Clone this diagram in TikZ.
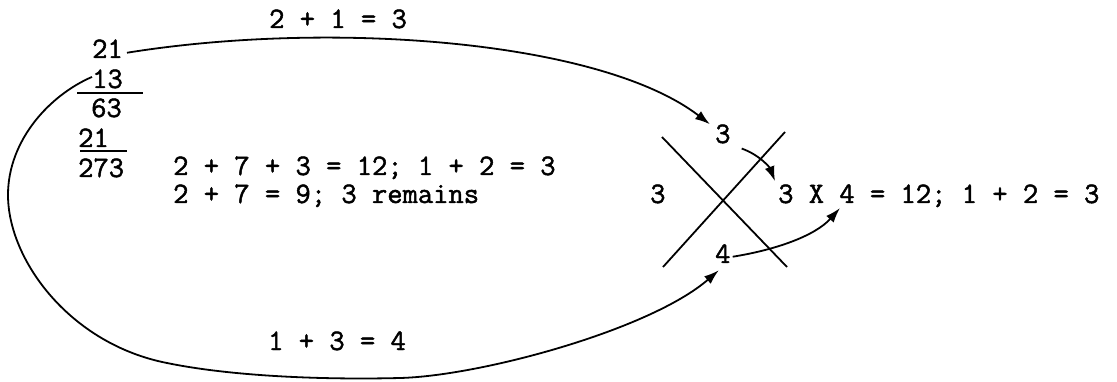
\documentclass[tikz,border=0pt]{standalone}
\usepackage{fontspec}
\newfontfamily\typew[FakeBold=1.6]{Latin Modern Mono}
\usetikzlibrary{arrows.meta,calc}
\begin{document}
\begin{tikzpicture}[x=1pt,y=-1pt,
  txt/.style={font=\typew\fontsize{29.7}{30}\selectfont, inner sep=0pt, anchor=base west},
  conn/.style={line width=1.8pt, -{Latex[length=15pt,width=10pt]}},
  plain/.style={line width=1.8pt}]
\useasboundingbox (0,0) rectangle (1117,382);
% texts
\node[txt] (top) at (269,28) {2 + 1 = 3};
\node[txt] (a21) at (92,58) {21};
\node[txt] (a13) at (92,88) {13};
\node[txt] (a63) at (91,117) {63};
\node[txt] (b21) at (78,147) {21};
\node[txt] (a273) at (78,177) {273};
\node[txt] (l1) at (173,175) {2 + 7 + 3 = 12; 1 + 2 = 3};
\node[txt] (l2) at (173,203) {2 + 7 = 9; 3 remains};
\node[txt] (left3) at (650,203) {3};
\node[txt] (prod) at (778,203) {3 X 4 = 12; 1 + 2 = 3};
\node[txt] (t3) at (715,143) {3};
\node[txt] (b4) at (715,263) {4};
\node[txt] (bot) at (268,350) {1 + 3 = 4};
% sum lines
\coordinate (u1a) at (77,93); \coordinate (u1b) at (143,93);
\coordinate (u2a) at (80,151); \coordinate (u2b) at (127,151);
\draw[plain] (u1a) -- (u1b);
\draw[plain] (u2a) -- (u2b);
% cross
\coordinate (c1a) at (662,137); \coordinate (c1b) at (787,267);
\coordinate (c2a) at (785,132); \coordinate (c2b) at (663,267);
\draw[plain] (c1a) -- (c1b);
\draw[plain] (c2a) -- (c2b);
% top arc: 21 -> top 3
\draw[conn] ($(a21.east)+(4,4)$) .. controls (330,20) and (600,40) .. ($(t3.north west)+(-5,0)$);
% bottom loop: 13 -> bottom 4
\draw[conn] ($(a13.west)+(0,-2)$) .. controls (50,95) and (8,140) .. (8,195)
  .. controls (8,260) and (70,344) .. (167,363)
  .. controls (230,376) and (320,380) .. (400,378)
  .. controls (480,376) and (650,330) .. ($(b4.south)+(-4,7)$);
% top 3 -> product
\draw[conn] ($(t3.south east)+(11,5)$) .. controls (760,155) and (770,168) .. ($(prod.north west)+(-3,-3)$);
% bottom 4 -> product
\draw[conn] ($(b4.east)+(2,3)$) .. controls (775,250) and (815,236) .. ($(prod.base west)+(62,5)$);
\end{tikzpicture}
\end{document}
